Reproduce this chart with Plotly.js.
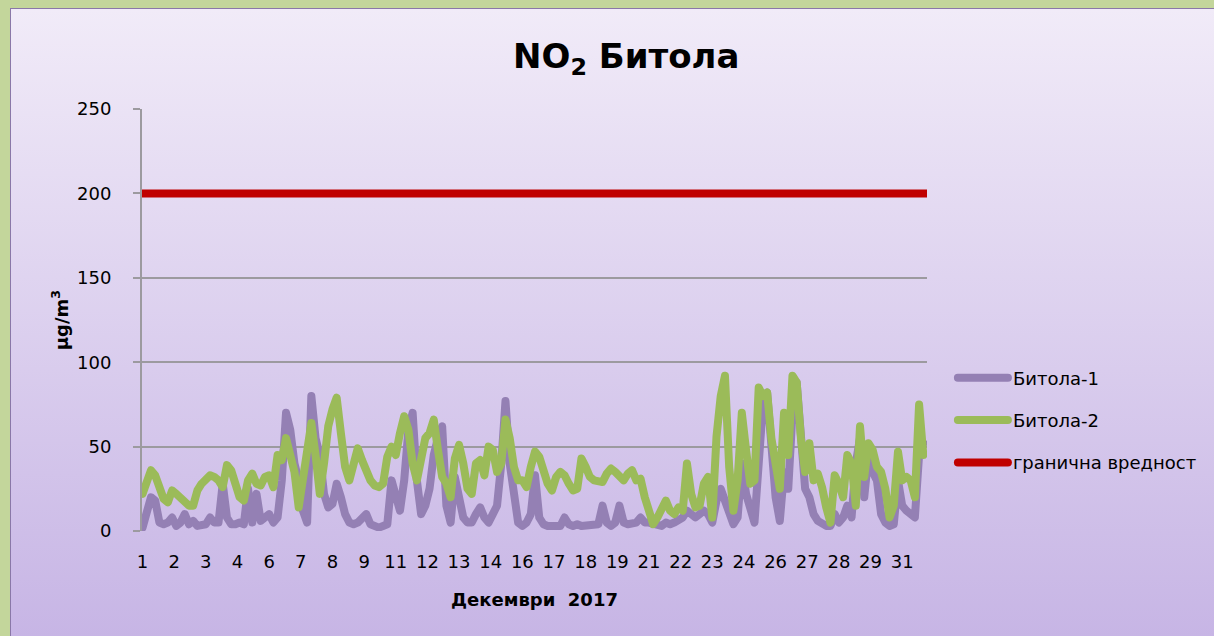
<!DOCTYPE html>
<html>
<head>
<meta charset="utf-8">
<script src="https://cdn.plot.ly/plotly-3.0.1.min.js"></script>
<style>
  html, body { margin: 0; padding: 0; width: 1214px; height: 636px; overflow: hidden; background: #c3d69b; }
  #frame {
    position: absolute; left: 10px; top: 8px; width: 1204px; height: 628px;
    background: linear-gradient(#f1ebf8, #c7b5e5);
    border-top: 1px solid #8a78a8; border-left: 1px solid #8a78a8;
  }
  #chart { width: 1204px; height: 628px; }
  #chart path.js-line { stroke-linejoin: round !important; stroke-linecap: round !important; }
</style>
</head>
<body>
<div id="frame"><div id="chart"></div></div>
<script>
// hourly readings sampled every 4 h (hours 0,4,8,12,16,20 of each day), December 2017
const SAMPLE_HOURS = [0, 4, 8, 12, 16, 20];
const DAYS = 31;

const bitola1 = [
  2, 10, 20, 18, 5, 4,
  5, 8, 3, 5, 10, 4,
  6, 3, 3, 4, 8, 5,
  5, 28, 8, 4, 4, 5,
  4, 25, 5, 22, 6, 8,
  10, 5, 8, 30, 70, 60,
  40, 30, 12, 5, 80, 55,
  45, 22, 14, 16, 28, 20,
  10, 5, 4, 5, 8, 10,
  4, 3, 2, 3, 4, 30,
  20, 12, 30, 60, 70, 30,
  10, 15, 25, 45, 55, 62,
  15, 5, 32, 20, 8, 5,
  5, 10, 14, 8, 5, 10,
  15, 40, 77, 40, 18, 5,
  3, 5, 10, 33, 8, 4,
  3, 3, 4, 3, 8, 4,
  3, 4, 3, 3, 4, 3,
  4, 15, 5, 3, 5, 15,
  5, 4, 4, 5, 8, 5,
  5, 4, 3, 3, 5, 4,
  5, 6, 8, 12, 10, 8,
  10, 12, 10, 5, 18, 25,
  18, 10, 4, 8, 40, 22,
  15, 5, 40, 75, 82, 50,
  20, 6, 35, 25, 70, 88,
  50, 25, 20, 10, 6, 4,
  3, 3, 10, 5, 8, 15,
  8, 40, 55, 20, 45, 35,
  30, 10, 5, 3, 4, 30,
  15, 12, 10, 8, 45, 52
];

const bitola2 = [
  22, 30, 36, 33, 27, 19,
  17, 24, 22, 20, 18, 15,
  15, 24, 28, 31, 33, 32,
  30, 26, 39, 36, 29, 20,
  18, 30, 34, 28, 27, 32,
  33, 26, 45, 42, 55, 45,
  35, 14, 30, 50, 64, 45,
  22, 40, 62, 72, 79, 58,
  38, 30, 42, 49, 42, 35,
  30, 27, 26, 28, 44, 50,
  45, 58, 68, 60, 40, 30,
  45, 55, 58, 66, 48, 32,
  28, 20, 43, 51, 40, 25,
  22, 40, 42, 33, 50, 48,
  35, 40, 66, 55, 38, 30,
  30, 26, 38, 47, 44, 36,
  28, 24, 32, 35, 33, 28,
  24, 25, 43, 38, 32, 30,
  30, 29, 34, 37, 35, 32,
  30, 34, 36, 30, 31, 20,
  12, 4, 8, 14, 18, 12,
  10, 14, 12, 40, 22, 14,
  15, 28, 32, 8, 56, 80,
  92, 38, 12, 30, 70, 48,
  28, 30, 85, 80, 82, 55,
  40, 25, 70, 45, 92, 88,
  55, 35, 52, 30, 34, 26,
  14, 5, 33, 28, 20, 45,
  40, 15, 62, 32, 52, 48,
  38, 35, 25, 8, 15, 47,
  30, 32, 30, 20, 75, 45
];

const limitValue = 200;
const tickHours = [0, 30, 60, 90, 120, 150, 180, 210, 240, 270, 300, 330, 360, 390, 420, 450, 480, 510, 540, 570, 600, 630, 660, 690, 720];
const tickLabels = ["1", "2", "3", "4", "6", "7", "8", "9", "11", "12", "13", "14", "16", "17", "18", "19", "21", "22", "23", "24", "26", "27", "28", "29", "31"];

const hourIndex = [];
for (let d = 0; d < DAYS; d++) {
  SAMPLE_HOURS.forEach((h) => hourIndex.push(d * 24 + h));
}
const lastHour = DAYS * 24 - 1;

const FONT = "DejaVu Sans, sans-serif";

const traces = [
  {
    type: "scatter", mode: "lines", name: "Битола-1", legendgroup: "a",
    x: hourIndex, y: bitola1,
    line: { color: "#9480b4", width: 8 },
  },
  {
    type: "scatter", mode: "lines", name: "Битола-2", legendgroup: "b",
    x: hourIndex, y: bitola2,
    line: { color: "#9bbb59", width: 8 },
  },
  {
    type: "scatter", mode: "lines", name: "гранична вредност", legendgroup: "c",
    x: [0, lastHour], y: [limitValue, limitValue],
    line: { color: "#c00000", width: 8 },
  },
];

const layout = {
  width: 1204,
  height: 628,
  paper_bgcolor: "rgba(0,0,0,0)",
  plot_bgcolor: "rgba(0,0,0,0)",
  margin: { l: 131, r: 288, t: 100, b: 106 },
  font: { family: FONT, color: "#000" },
  title: {
    text: "<b>NO<sub>2</sub> Битола</b>",
    font: { size: 34, family: FONT, color: "#000" },
    x: 0.511, xref: "container", xanchor: "center",
    y: 0.925, yref: "container", yanchor: "middle",
  },
  showlegend: true,
  legend: {
    x: 1.033, xanchor: "left", y: 0.262, yanchor: "middle",
    font: { size: 18, family: FONT, color: "#000" },
    tracegroupgap: 16,
    itemwidth: 50,
    bgcolor: "rgba(0,0,0,0)",
  },
  xaxis: {
    range: [-0.5, lastHour + 0.5],
    tickmode: "array",
    tickvals: tickHours,
    ticktext: tickLabels,
    showgrid: false,
    zeroline: false,
    showline: false,
    ticks: "",
    ticklabelstandoff: 18,
    tickfont: { size: 18, family: FONT, color: "#000" },
    title: { text: "<b>Декември  2017</b>", font: { size: 18, family: FONT, color: "#000" }, standoff: 22 },
  },
  yaxis: {
    range: [0, 250],
    tickvals: [0, 50, 100, 150, 200, 250],
    showgrid: true,
    gridcolor: "#9c9a9f",
    gridwidth: 2,
    zeroline: false,
    showline: true,
    linecolor: "#9c9a9f",
    linewidth: 2,
    ticks: "outside",
    ticklen: 7,
    tickwidth: 2,
    tickcolor: "#9c9a9f",
    ticklabelstandoff: 18,
    tickfont: { size: 18, family: FONT, color: "#000" },
    title: { text: "<b>µg/m<sup>3</sup></b>", font: { size: 18, family: FONT, color: "#000" }, standoff: 4 },
  },
};

Plotly.newPlot("chart", traces, layout, { displayModeBar: false, staticPlot: true });
</script>
</body>
</html>
